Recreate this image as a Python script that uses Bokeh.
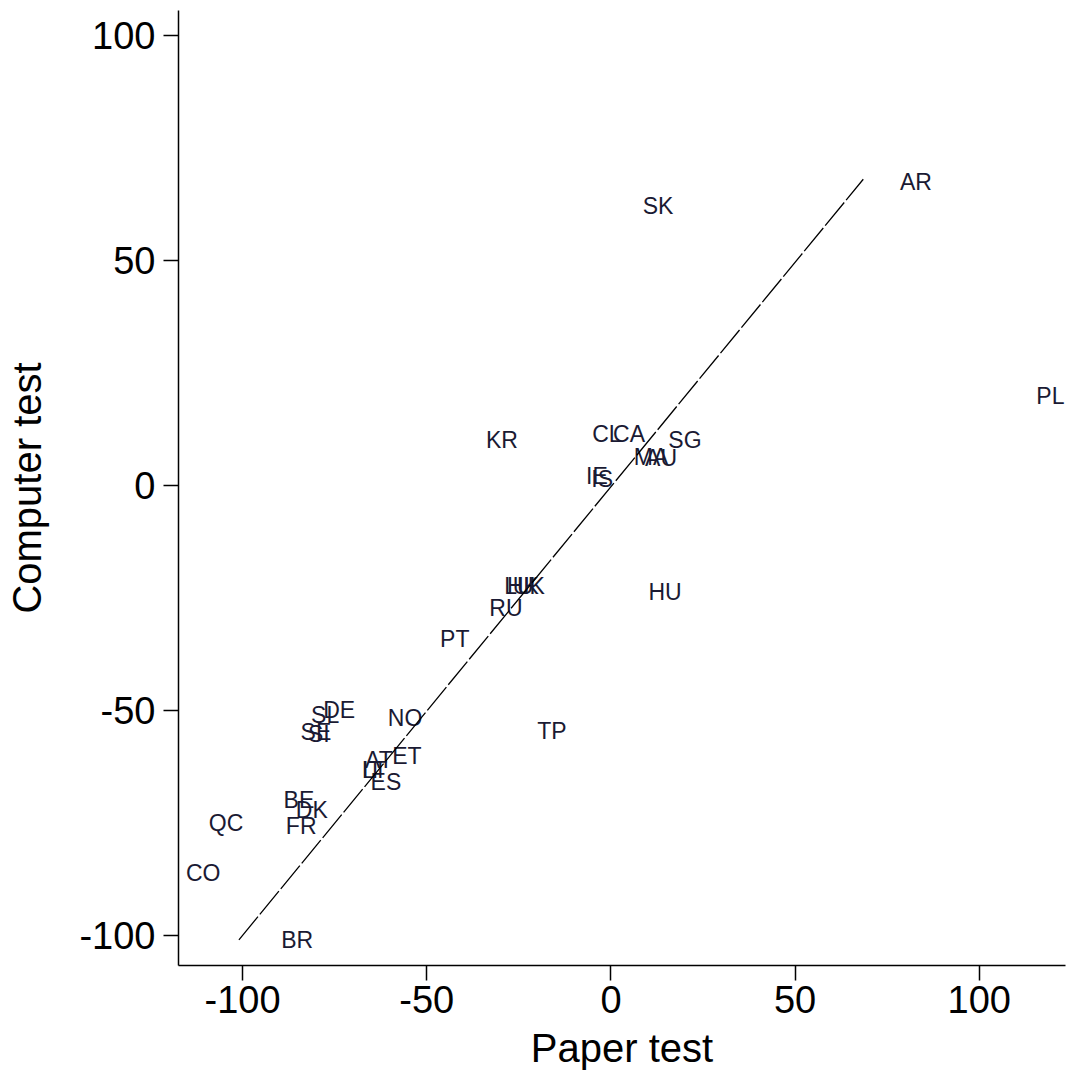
from bokeh.plotting import figure
from bokeh.models import ColumnDataSource, Range1d, FixedTicker
from bokeh.core.properties import value
from bokeh.embed import file_html
from bokeh.resources import INLINE

countries = ["AR", "SK", "PL", "KR", "CL", "CA", "SG", "MA", "AU", "IE", "IS",
             "LU", "HK", "UK", "RU", "HU", "PT", "DE", "SL", "SE", "SI", "NO",
             "AT", "ET", "IT", "LT", "ES", "BE", "DK", "FR", "QC", "CO", "BR", "TP"]
paper = [82.8, 12.8, 119.3, -29.6, -1.1, 4.9, 20.1, 10.9, 13.6, -3.8, -2.4,
         -25.0, -23.9, -22.3, -28.5, 14.7, -42.4, -73.8, -77.6, -80.1, -79.3, -55.9,
         -63.0, -55.4, -64.9, -64.1, -61.1, -84.7, -81.2, -84.1, -104.5, -110.7, -85.2, -16.0]
computer = [67.3, 62.0, 19.8, 10.0, 11.3, 11.3, 10.0, 6.2, 6.0, 2.0, 1.3,
            -22.4, -22.4, -22.4, -27.3, -23.6, -34.2, -50.0, -51.1, -54.9, -55.3, -51.8,
            -61.1, -60.2, -63.3, -63.3, -66.0, -70.0, -72.2, -75.6, -75.1, -86.2, -101.1, -54.6]

fit_x = [-101.0, 68.5]
fit_y = [-101.0, 68.0]

ticks = [-100, -50, 0, 50, 100]
tick_labels = {t: str(t) for t in ticks}
FONT = "Liberation Sans"

p = figure(width=1067, height=1073, output_backend="svg", toolbar_location=None,
           x_range=Range1d(-117.4, 123.4), y_range=Range1d(-106.7, 105.5),
           min_border_left=178, min_border_right=2, min_border_top=10, min_border_bottom=108)
p.outline_line_color = None
p.xgrid.visible = False
p.ygrid.visible = False

src = ColumnDataSource(dict(x=paper, y=computer, t=countries))
p.text(x="x", y="y", text="t", source=src, text_align="center", text_baseline="middle",
       text_font=value(FONT), text_font_size="23px", text_color="#1a1a33")

p.line(fit_x, fit_y, line_color="black", line_width=1.3, line_dash="30 3")

for ax in (p.xaxis[0], p.yaxis[0]):
    ax.ticker = FixedTicker(ticks=ticks)
    ax.major_label_overrides = tick_labels
    ax.minor_tick_line_color = None
    ax.major_tick_out = 15
    ax.major_tick_in = 0
    ax.major_tick_line_width = 1.5
    ax.axis_line_width = 1.5
    ax.axis_line_color = "black"
    ax.major_tick_line_color = "black"
    ax.major_label_text_font = FONT
    ax.major_label_text_font_size = "38px"
    ax.major_label_text_color = "black"
    ax.axis_label_text_font = FONT
    ax.axis_label_text_font_size = "40px"
    ax.axis_label_text_font_style = "normal"
    ax.axis_label_text_color = "black"

p.xaxis.axis_label = "Paper test"
p.yaxis.axis_label = "Computer test"
p.xaxis.major_label_standoff = 5
p.yaxis.major_label_standoff = 8
p.xaxis.axis_label_standoff = 10
p.yaxis.axis_label_standoff = 27

open("out.html", "w").write(file_html(p, INLINE))
